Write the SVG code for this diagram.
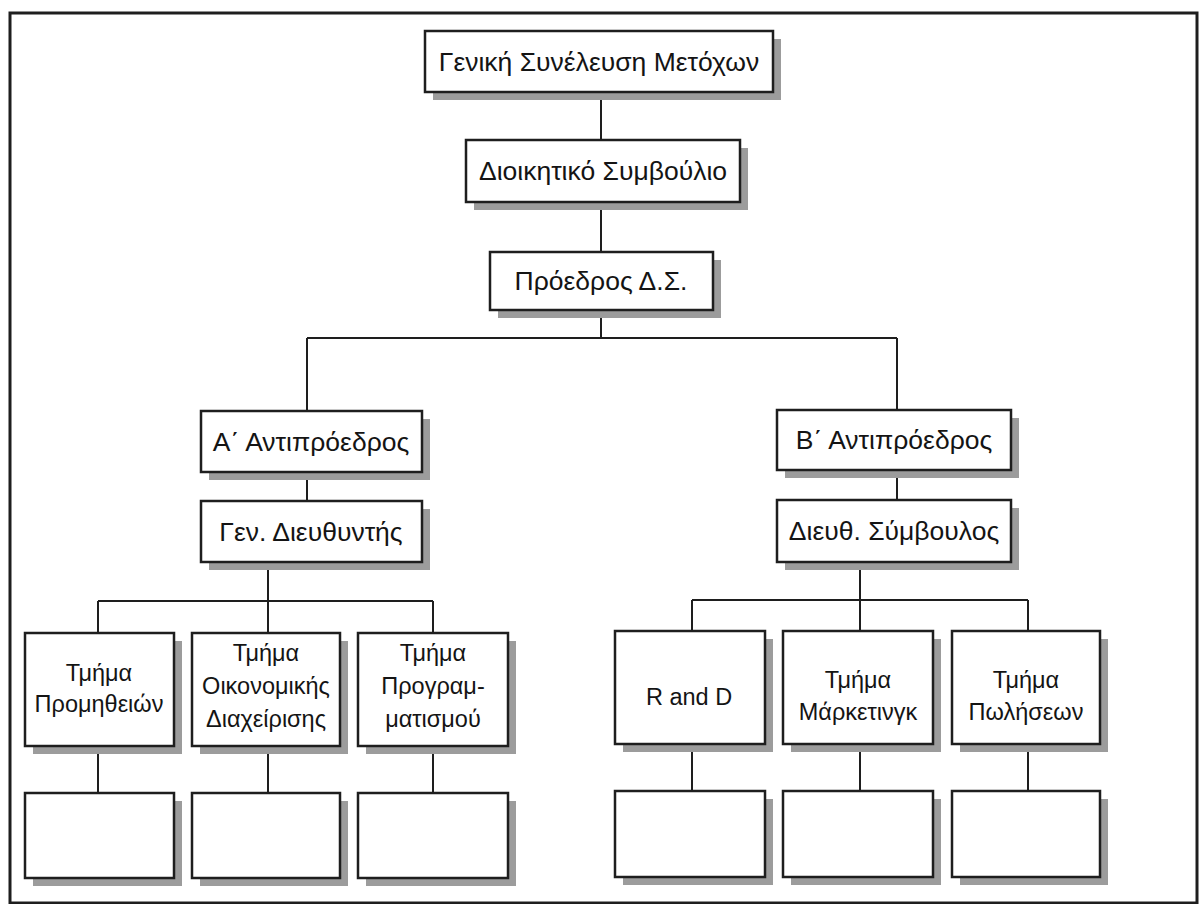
<svg xmlns="http://www.w3.org/2000/svg" width="1200" height="904" viewBox="0 0 1200 904">
<style>
.bg{fill:#ffffff}
.frame{fill:none;stroke:#1e1e1e;stroke-width:3}
.box{fill:#ffffff;stroke:#1e1e1e;stroke-width:2.5}
.shadow{fill:#9c9c9c}
.conn{fill:none;stroke:#1e1e1e;stroke-width:2}
.t{font-family:"Liberation Sans",Arial,sans-serif;font-size:26.5px;fill:#141414;text-anchor:middle}
.d{font-family:"Liberation Sans",Arial,sans-serif;font-size:23.5px;fill:#141414;text-anchor:middle}
</style>
<rect class="bg" x="0" y="0" width="1200" height="904"/>
<rect class="frame" x="10" y="13" width="1187" height="890"/>
<g id="connectors">
<path class="conn" d="M601 92 V140 M601 202 V252 M601 310 V338 M307 338 H897 M307 338 V411 M897 338 V410 M307 472 V501 M897 470 V500"/>
<path class="conn" d="M268 562 V601 M98 601 H433 M98 601 V633 M268 601 V633 M433 601 V633 M98 746 V793 M268 746 V793 M433 746 V793"/>
<path class="conn" d="M860 562 V600 M692 600 H1028 M692 600 V631 M860 600 V631 M1028 600 V631 M692 744 V791 M860 744 V791 M1028 744 V791"/>
</g>
<g id="n_gs"><rect class="shadow" x="433" y="39" width="348" height="61"/><rect class="box" x="425" y="31" width="348" height="61"/><text class="t" x="599" y="71">Γενική Συνέλευση Μετόχων</text></g>
<g id="n_ds"><rect class="shadow" x="474" y="148" width="274" height="62"/><rect class="box" x="466" y="140" width="274" height="62"/><text class="t" x="603" y="180">Διοικητικό Συμβούλιο</text></g>
<g id="n_pr"><rect class="shadow" x="498" y="260" width="223" height="58"/><rect class="box" x="490" y="252" width="223" height="58"/><text class="t" x="601" y="290">Πρόεδρος Δ.Σ.</text></g>
<g id="n_a"><rect class="shadow" x="209" y="419" width="221" height="61"/><rect class="box" x="201" y="411" width="221" height="61"/><text class="t" x="311" y="451">Α΄ Αντιπρόεδρος</text></g>
<g id="n_gd"><rect class="shadow" x="209" y="509" width="221" height="61"/><rect class="box" x="201" y="501" width="221" height="61"/><text class="t" x="311" y="541">Γεν. Διευθυντής</text></g>
<g id="n_b"><rect class="shadow" x="785" y="418" width="234" height="60"/><rect class="box" x="777" y="410" width="234" height="60"/><text class="t" x="894" y="449">Β΄ Αντιπρόεδρος</text></g>
<g id="n_ds2"><rect class="shadow" x="785" y="508" width="234" height="62"/><rect class="box" x="777" y="500" width="234" height="62"/><text class="t" x="894" y="540">Διευθ. Σύμβουλος</text></g>
<g id="n_prom"><rect class="shadow" x="33" y="641" width="149" height="113"/><rect class="box" x="25" y="633" width="149" height="113"/><text class="d" x="99" y="681">Τμήμα</text><text class="d" x="99" y="712">Προμηθειών</text></g>
<g id="n_oik"><rect class="shadow" x="200" y="641" width="148" height="113"/><rect class="box" x="192" y="633" width="148" height="113"/><text class="d" x="266" y="661">Τμήμα</text><text class="d" x="266" y="694">Οικονομικής</text><text class="d" x="266" y="727">Διαχείρισης</text></g>
<g id="n_prog"><rect class="shadow" x="366" y="641" width="150" height="113"/><rect class="box" x="358" y="633" width="150" height="113"/><text class="d" x="433" y="661">Τμήμα</text><text class="d" x="433" y="694">Προγραμ-</text><text class="d" x="433" y="727">ματισμού</text></g>
<g id="n_rd"><rect class="shadow" x="623" y="639" width="150" height="113"/><rect class="box" x="615" y="631" width="150" height="113"/><text class="d" x="689" y="705">R and D</text></g>
<g id="n_mk"><rect class="shadow" x="791" y="639" width="150" height="113"/><rect class="box" x="783" y="631" width="150" height="113"/><text class="d" x="858" y="688">Τμήμα</text><text class="d" x="858" y="720">Μάρκετινγκ</text></g>
<g id="n_pol"><rect class="shadow" x="960" y="639" width="148" height="113"/><rect class="box" x="952" y="631" width="148" height="113"/><text class="d" x="1026" y="688">Τμήμα</text><text class="d" x="1026" y="720">Πωλήσεων</text></g>
<g id="n_e1"><rect class="shadow" x="33" y="801" width="149" height="85"/><rect class="box" x="25" y="793" width="149" height="85"/></g>
<g id="n_e2"><rect class="shadow" x="200" y="801" width="148" height="85"/><rect class="box" x="192" y="793" width="148" height="85"/></g>
<g id="n_e3"><rect class="shadow" x="366" y="801" width="150" height="85"/><rect class="box" x="358" y="793" width="150" height="85"/></g>
<g id="n_e4"><rect class="shadow" x="623" y="799" width="150" height="86"/><rect class="box" x="615" y="791" width="150" height="86"/></g>
<g id="n_e5"><rect class="shadow" x="791" y="799" width="150" height="86"/><rect class="box" x="783" y="791" width="150" height="86"/></g>
<g id="n_e6"><rect class="shadow" x="960" y="799" width="148" height="86"/><rect class="box" x="952" y="791" width="148" height="86"/></g>
</svg>
